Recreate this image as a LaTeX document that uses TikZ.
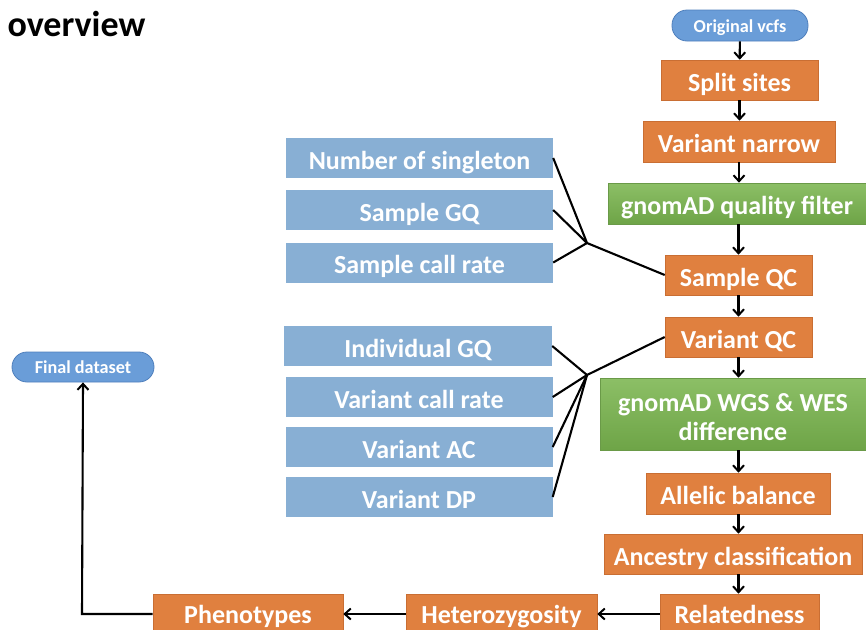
\documentclass[tikz,border=0pt]{standalone}
\usepackage{fontspec}
\setmainfont{Carlito}
\usetikzlibrary{arrows.meta,calc}
\definecolor{orng}{HTML}{E0803F}
\definecolor{orngline}{HTML}{C96E33}
\definecolor{lblue}{HTML}{88AFD4}
\definecolor{pblue}{HTML}{6A9DD8}
\definecolor{pbline}{HTML}{4F7FBC}
\definecolor{gtop}{HTML}{8CBF66}
\definecolor{gbot}{HTML}{6EA447}
\definecolor{gline}{HTML}{6A9A48}
\newcommand\dnline[1]{\raisebox{-3.5pt}[\height][\depth]{#1}}
\tikzset{
  base/.style={font=\bfseries\fontsize{26}{29}\selectfont, text=white, inner sep=0pt, align=center},
  oneline/.style={text height=22pt, text depth=0pt},
  lowrow/.style={text height=18.5pt, text depth=0pt},
  obox/.style={base, fill=orng, draw=orngline, line width=0.6pt},
  gbox/.style={base, top color=gtop, bottom color=gbot, draw=gline, line width=0.6pt},
  bbox/.style={base, oneline, fill=lblue, minimum width=267pt, minimum height=40pt},
  pill/.style={base, font=\bfseries\fontsize{18.2}{20}\selectfont, text height=13.5pt, text depth=0pt, fill=pblue, draw=pbline, line width=0.8pt, rounded corners=15pt},
  arr/.style={-{Straight Barb[length=6pt,width=11pt,line width=2pt]}, line width=2.1pt},
  conn/.style={line width=2.1pt},
}
\begin{document}
\begin{tikzpicture}[x=1pt,y=-1pt]
\useasboundingbox (0,0) rectangle (866,629);
\node[anchor=base west, font=\bfseries\fontsize{36}{40}\selectfont] (title) at (4,36) {overview};

% main column
\node[pill, minimum width=136pt, minimum height=31pt] (orig) at (740,25.5) {Original vcfs};
\node[obox, oneline, minimum width=157pt, minimum height=40pt] (split) at (739.5,80) {Split sites};
\node[obox, oneline, minimum width=192pt, minimum height=41pt] (narrow) at (739,141.5) {Variant narrow};
\node[gbox, oneline, minimum width=258pt, minimum height=41pt] (gqf) at (737,203.5) {gnomAD quality filter};
\node[obox, oneline, minimum width=147pt, minimum height=40pt] (sqc) at (738.5,275) {Sample QC};
\node[obox, oneline, minimum width=147pt, minimum height=40pt] (vqc) at (738.5,337) {Variant QC};
\node[gbox, minimum width=266pt, minimum height=72pt] (wgs) at (733,414) {\dnline{gnomAD WGS \& WES}\\\dnline{difference}};
\node[obox, oneline, minimum width=184pt, minimum height=41pt] (allelic) at (738,493.5) {Allelic balance};
\node[obox, oneline, minimum width=258pt, minimum height=40pt] (ancestry) at (733,554) {Ancestry classification};
\node[obox, lowrow, minimum width=159pt, minimum height=40pt] (related) at (739.5,614) {Relatedness};
\node[obox, lowrow, minimum width=191pt, minimum height=40pt] (hetero) at (501.5,614) {Heterozygosity};
\node[obox, lowrow, minimum width=190pt, minimum height=40pt] (pheno) at (248,614) {Phenotypes};
\node[pill, minimum width=142pt, minimum height=30pt] (final) at (83,367) {Final dataset};

% left blue boxes
\node[bbox] (ns) at (419.5,158) {Number of singleton};
\node[bbox] (sgq) at (419.5,210) {Sample GQ};
\node[bbox] (scr) at (419.5,262.5) {Sample call rate};
\node[bbox, minimum width=268pt] (igq) at (418,346) {Individual GQ};
\node[bbox] (vcr) at (419,397) {Variant call rate};
\node[bbox] (vac) at (419,447) {Variant AC};
\node[bbox] (vdp) at (419,497) {Variant DP};

% junctions
\coordinate (j1) at (587,243);
\coordinate (j2) at (587,375);
\coordinate (corner) at (82,614);

% vertical arrows
\draw[arr] (orig) -- (split);
\draw[arr] (split) -- (split |- narrow.north);
\draw[arr] (narrow) -- (narrow |- gqf.north);
\draw[arr] (sqc |- gqf.south) -- (sqc);
\draw[arr] (sqc) -- (vqc);
\draw[arr] (vqc) -- (vqc |- wgs.north);
\draw[arr] (vqc |- wgs.south) -- (vqc |- allelic.north);
\draw[arr] (vqc |- allelic.south) -- (vqc |- ancestry.north);
\draw[arr] (vqc |- ancestry.south) -- (vqc |- related.north);

% horizontal arrows
\draw[arr] (related) -- (hetero);
\draw[arr] (hetero) -- (pheno);
\draw[arr] (pheno.west) -- (corner) -- (final.south);

% connectors
\draw[conn] (ns.east) -- (j1);
\draw[conn] (sgq.east) -- (j1);
\draw[conn] (scr.east) -- (j1);
\draw[conn] (j1) -- (sqc.west);
\draw[conn] (igq.east) -- (j2);
\draw[conn] (vcr.east) -- (j2);
\draw[conn] (vac.east) -- (j2);
\draw[conn] (vdp.east) -- (j2);
\draw[conn] (j2) -- (vqc.west);
\end{tikzpicture}
\end{document}
